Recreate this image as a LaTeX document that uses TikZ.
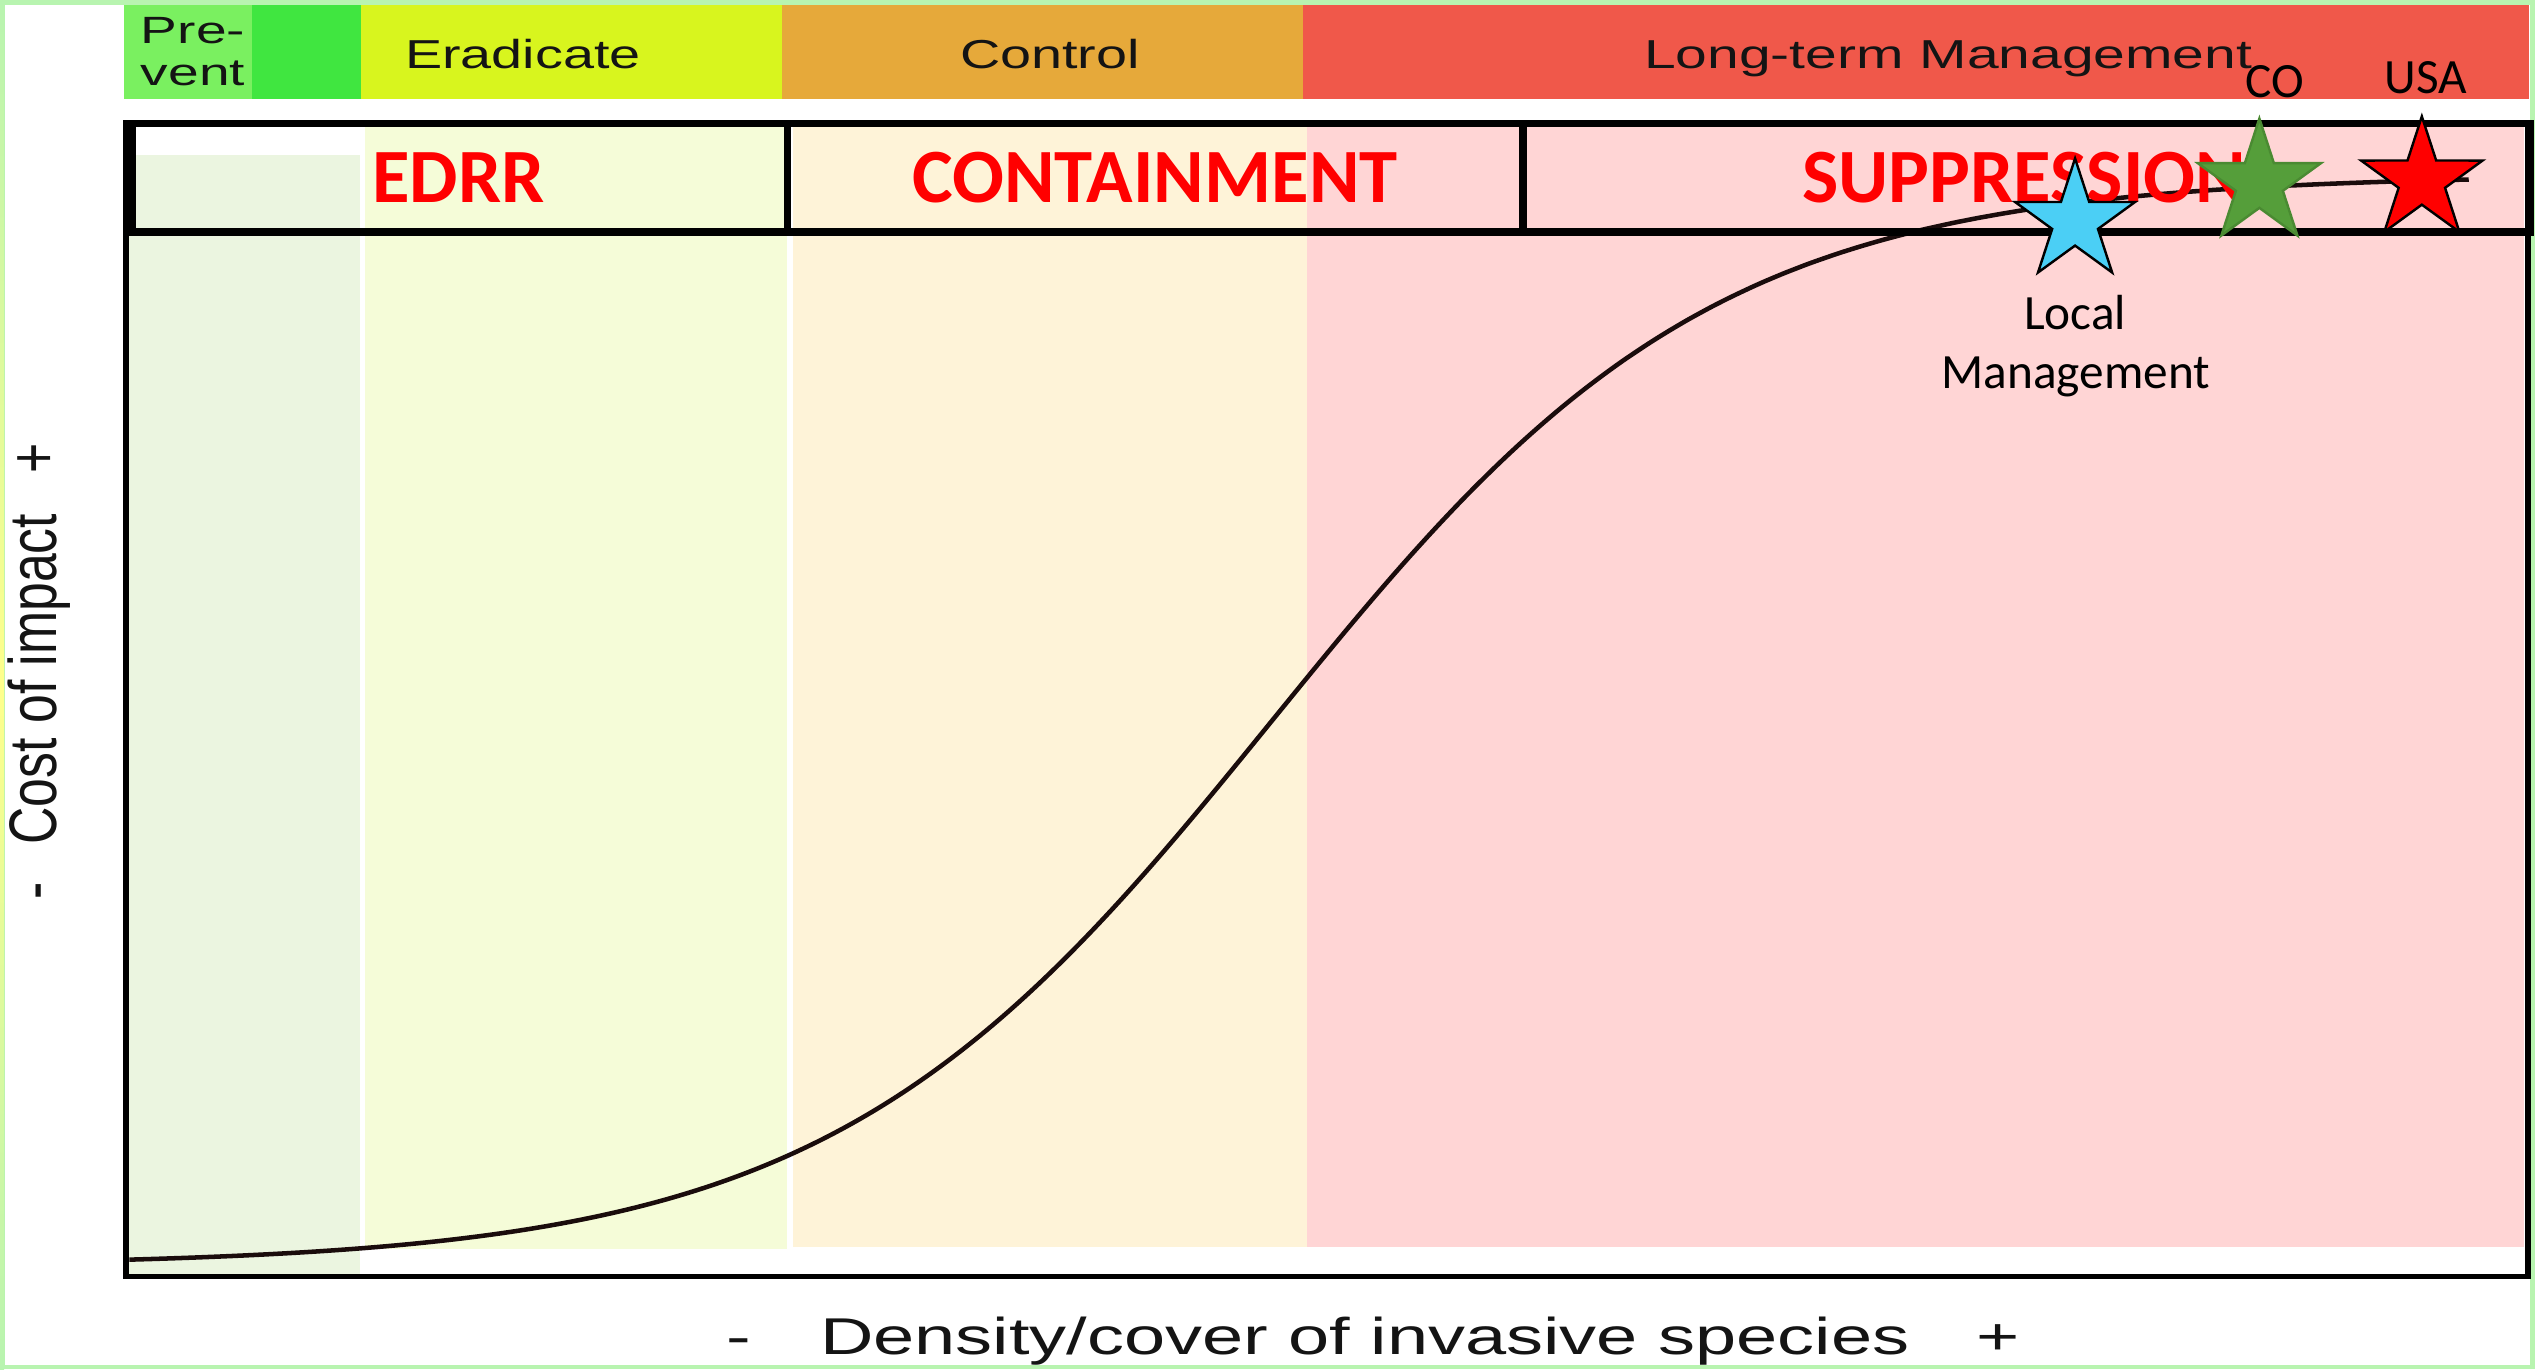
\documentclass[tikz,border=0pt]{standalone}
\usepackage{fontspec}
\usepackage{graphicx}
\usetikzlibrary{shapes.geometric}
\newfontfamily\arialf{Liberation Sans}
\newfontfamily\calf{Carlito}
\definecolor{framegreen}{HTML}{B8F4B0}
\definecolor{barprevent}{HTML}{7AF060}
\definecolor{bargreen}{HTML}{40E640}
\definecolor{bareradicate}{HTML}{D8F51E}
\definecolor{barcontrol}{HTML}{E6A93A}
\definecolor{barlong}{HTML}{F0584A}
\definecolor{bandprevent}{HTML}{EBF5E0}
\definecolor{banderadicate}{HTML}{F5FCD8}
\definecolor{bandcontrol}{HTML}{FEF3D8}
\definecolor{bandred}{HTML}{FFD5D5}
\definecolor{zonered}{HTML}{FF0000}
\definecolor{starblue}{HTML}{4BCFF5}
\definecolor{stargreen}{HTML}{559E3A}
\definecolor{stargreenline}{HTML}{4A8A32}
\definecolor{curvecol}{HTML}{1A0C0C}
\definecolor{textgray}{HTML}{141414}
\begin{document}
\begin{tikzpicture}[x=1pt,y=-1pt,
  bartext/.style={font=\arialf\fontsize{25}{29}\selectfont, text=textgray, inner sep=0, anchor=base},
  zonetext/.style={font=\calf\bfseries\fontsize{47.5}{52}\selectfont, text=zonered, inner sep=0, anchor=base west},
  startext/.style={font=\calf\fontsize{30.5}{36}\selectfont, inner sep=0, anchor=base},
  starshape/.style={star, star points=5, star point ratio=2.618, inner sep=0, line width=1.5pt},
  axistext/.style={font=\arialf\fontsize{32}{36}\selectfont, text=textgray, inner sep=0, anchor=base},
  headbox/.style={draw=black, line width=4.5pt}
]
\useasboundingbox (0,0) rectangle (1568,847);
\fill[white] (0,0) rectangle (1568,847);
% outer frame
\draw[framegreen, line width=3pt] (1.5,1.5) rectangle (1566.5,845.5);
\shade[top color=framegreen, bottom color=framegreen, middle color=yellow!45] (0,0) rectangle (2.5,847);

% top bar
\fill[barprevent] (77,3) rectangle (156,61);
\fill[bargreen] (156,3) rectangle (223,61);
\fill[bareradicate] (223,3) rectangle (484,61);
\fill[barcontrol] (484,3) rectangle (806,61);
\fill[barlong] (806,3) rectangle (1564,61);
\node[bartext, anchor=base west, font=\arialf\fontsize{23.5}{27}\selectfont] (pre) at (87,27) {\scalebox{1.45}[1]{Pre-}};
\node[bartext, anchor=base west, font=\arialf\fontsize{23.5}{27}\selectfont] (vent) at (87,53) {\scalebox{1.45}[1]{vent}};
\node[bartext] (erad) at (323.5,42.5) {\scalebox{1.38}[1]{Eradicate}};
\node[bartext] (ctrl) at (649.5,42.5) {\scalebox{1.38}[1]{Control}};
\node[bartext] (ltm) at (1205,42.5) {\scalebox{1.41}[1]{Long-term Management}};

% background bands
\fill[bandprevent] (80,96) rectangle (222.7,789);
\fill[banderadicate] (226,78.5) rectangle (487,772.6);
\fill[bandcontrol] (490.7,78.5) rectangle (808.5,771);
\fill[bandred] (808.5,78.5) rectangle (1561,771);

% curve
\draw[curvecol, line width=2.8pt] plot[domain=80:1527, samples=220, smooth, variable=\x]
  ({\x}, {783 - 675/(1+exp(-0.0073*(\x-787)))});

% panel frame
\draw[black, line width=3.5pt] (78,76) rectangle (1563.5,789.5);

% header boxes
\draw[headbox] (82,76.5) rectangle (487,143.5);
\draw[headbox] (487,76.5) rectangle (942,143.5);
\draw[headbox] (942,76.5) rectangle (1565,143.5);

\node[zonetext] (edrr) at (230,125.5) {EDRR};
\node[zonetext] (cont) at (564,125.5) {CONTAINMENT};
\node[zonetext] (supp) at (1114.5,125.5) {SUPPRESSION};

% stars
\node[starshape, fill=starblue, draw=black, minimum size=78pt] (lmstar) at (1283.5,137) {};
\node[starshape, fill=stargreen, draw=stargreenline, minimum size=80pt] (costar) at (1397.5,113.3) {};
\node[starshape, fill=zonered, draw=black, minimum size=79pt] (usastar) at (1498,111.5) {};

\node[startext] (colab) at (1407,60) {CO};
\node[startext] (usalab) at (1500.6,58) {USA};
\node[startext] (lmlab1) at (1283.5,204) {Local};
\node[startext] (lmlab2) at (1284,240) {Management};

% axis labels
\node[axistext] (xminus) at (457,837.5) {\scalebox{1.43}[1]{-}};
\node[axistext, anchor=base west] (xlab) at (507,837.5) {\scalebox{1.43}[1]{Density/cover of invasive species}};
\node[axistext] (xplus) at (1236,837.5) {\scalebox{1.43}[1]{+}};

\node[axistext, rotate=90] (yplus) at (35,283.6) {\scalebox{1}[1.3]{+}};
\node[axistext, rotate=90] (ylab) at (35,420) {\scalebox{1}[1.3]{Cost of impact}};
\node[axistext, rotate=90] (yminus) at (35,551) {\scalebox{1}[1.3]{-}};
\end{tikzpicture}
\end{document}
